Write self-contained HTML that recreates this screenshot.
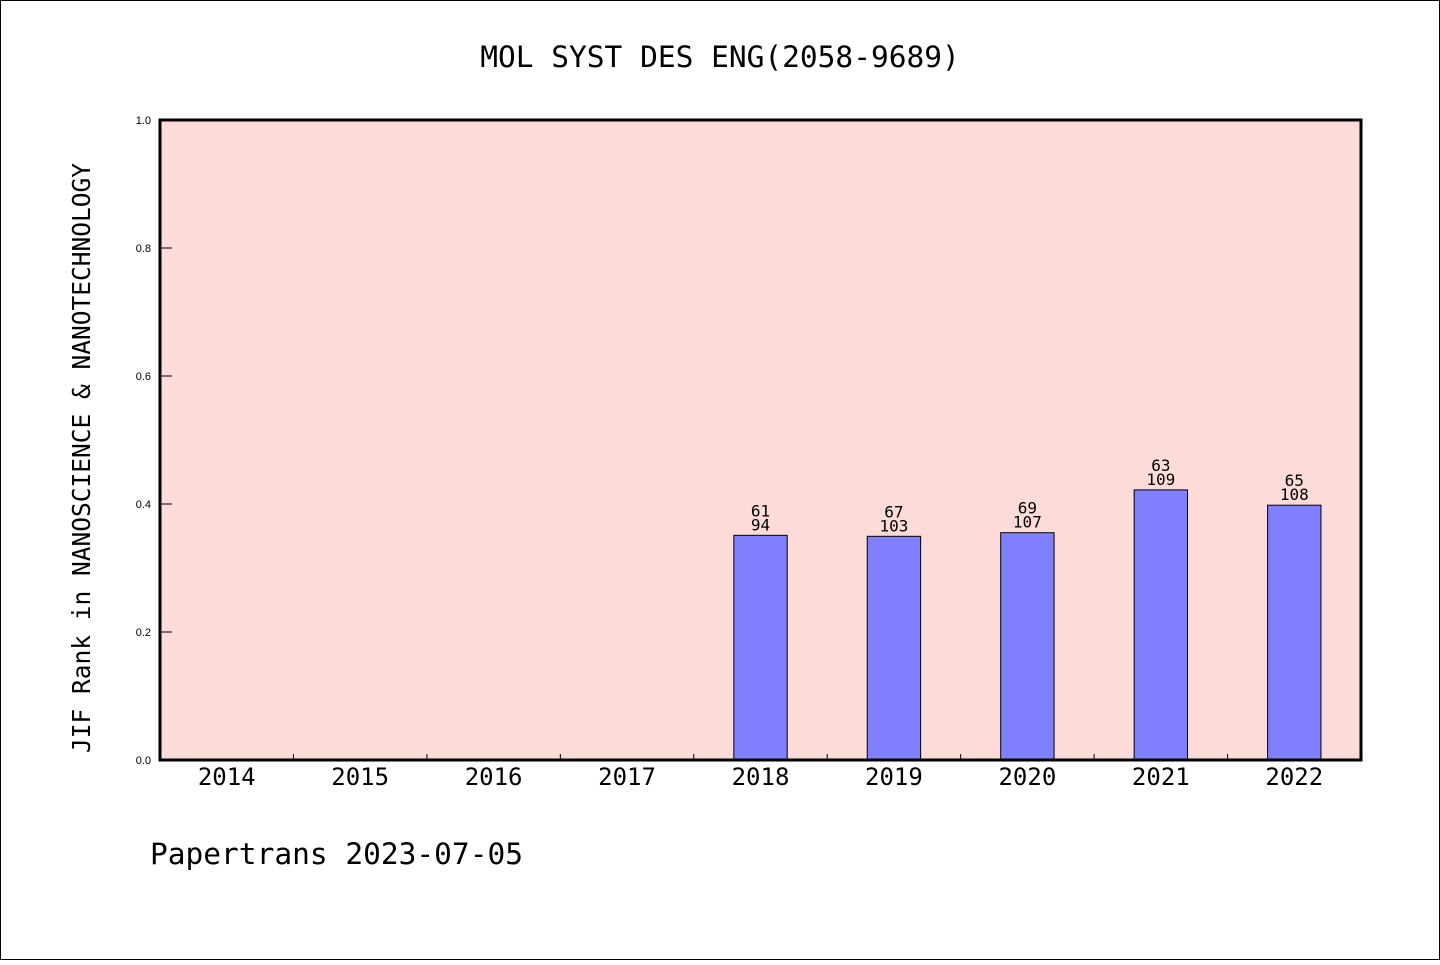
<!DOCTYPE html>
<html><head><meta charset="utf-8"><style>
body{margin:0;background:#fff}
svg text{font-family:"DejaVu Sans Mono","Liberation Mono",monospace;fill:#000}
svg text.sm{font-family:"Liberation Sans",sans-serif;font-size:11px}
</style></head><body>
<svg width="1440" height="960" xmlns="http://www.w3.org/2000/svg" id="chart">
<rect x="0.5" y="0.5" width="1439" height="959" fill="#fff" stroke="#000"/>
<text x="720" y="67" font-size="29.5" text-anchor="middle">MOL SYST DES ENG(2058-9689)</text>
<rect x="160" y="120" width="1201" height="640" fill="#fddbd8"/>
<g id="marks"></g>
<rect x="160" y="120" width="1201" height="640" fill="none" stroke="#000" stroke-width="3"/>
<text transform="translate(90,458) rotate(-90)" font-size="24.5" text-anchor="middle">JIF Rank in NANOSCIENCE &amp; NANOTECHNOLOGY</text>
<text x="150" y="864" font-size="29.5">Papertrans 2023-07-05</text>
</svg>
<script>
const years=["2014","2015","2016","2017","2018","2019","2020","2021","2022"];
const ranks=[null,null,null,null,61,67,69,63,65];
const totals=[null,null,null,null,94,103,107,109,108];
const yTicks=[0,0.2,0.4,0.6,0.8,1.0];
const X0=160,W=1201,Y0=760,H=640,NS="http://www.w3.org/2000/svg";
const bw=W/years.length;
const y=v=>Y0-v*H;
const xc=i=>X0+(i+0.5)*bw;
const g=document.getElementById('marks');
function mk(t,a,txt){const e=document.createElementNS(NS,t);for(const k in a)e.setAttribute(k,a[k]);if(txt!=null)e.textContent=txt;g.appendChild(e);return e;}
yTicks.forEach(v=>{
 const l=mk('line',{x1:160,x2:172,y1:y(v),y2:y(v),stroke:'#000'});
 
 
 const t=mk('text',{x:151,y:y(v)+4,'text-anchor':'end','class':'sm'},v.toFixed(1));
 
 
});
years.forEach((yr,i)=>{
 if(i>0){const l=mk('line',{x1:X0+i*bw,x2:X0+i*bw,y1:754,y2:760,stroke:'#000'});
 
 }
 const t=mk('text',{x:xc(i),y:785,'font-size':24,'text-anchor':'middle'},yr);
 
 
 if(ranks[i]!=null){
  const v=1-ranks[i]/totals[i];
  const w=bw*0.4;
  const r=mk('rect',{x:xc(i)-w/2,y:y(v),width:w,height:Y0-y(v),fill:'#8080ff',stroke:'#000','stroke-width':1});
  
  
  const a=mk('text',{x:xc(i),y:y(v)-19,'font-size':16,'text-anchor':'middle'},String(ranks[i]));
  
  
  const b=mk('text',{x:xc(i),y:y(v)-5,'font-size':16,'text-anchor':'middle'},String(totals[i]));
  
  
 }
});
</script>
</body></html>
